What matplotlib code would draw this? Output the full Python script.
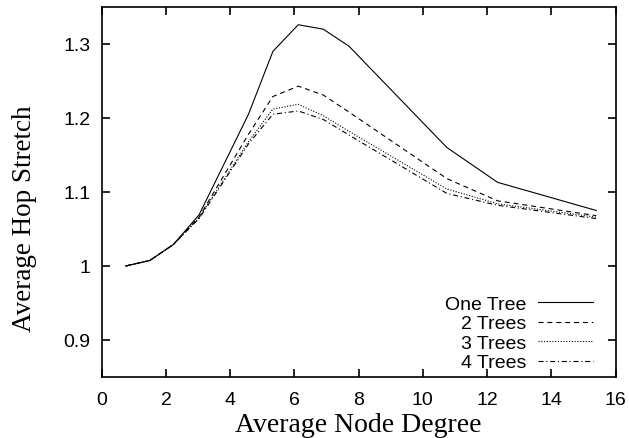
import matplotlib
matplotlib.use("Agg")
import matplotlib.pyplot as plt

plt.rcParams['lines.scale_dashes'] = False

# Average node degree (x) and hop stretch per number of trees
degree = [0.75, 1.5, 2.23, 3.03, 4.57, 5.33, 6.12, 6.9, 7.7, 10.75, 12.33, 15.4]
one_tree = [1.0, 1.0075, 1.029, 1.069, 1.205, 1.290, 1.326, 1.320, 1.297, 1.160, 1.113, 1.075]
two_trees = [1.0, 1.0075, 1.029, 1.066, 1.178, 1.229, 1.243, 1.231, 1.208, 1.118, 1.088, 1.068]
three_trees = [1.0, 1.0075, 1.029, 1.065, 1.168, 1.212, 1.2185, 1.203, 1.182, 1.104, 1.084, 1.066]
four_trees = [1.0, 1.0075, 1.029, 1.064, 1.165, 1.205, 1.2095, 1.198, 1.177, 1.098, 1.082, 1.064]

labels = ["One Tree", "2 Trees", "3 Trees", "4 Trees"]
xticks = [0, 2, 4, 6, 8, 10, 12, 14, 16]
yticks = [0.9, 1.0, 1.1, 1.2, 1.3]
ytick_labels = ["0.9", "1", "1.1", "1.2", "1.3"]

sans = "Liberation Sans"
serif = "Liberation Serif"

fig = plt.figure(figsize=(6.29, 4.39), dpi=100)
ax = fig.add_axes([0.1617, 0.139, 0.8169, 0.8428])

lw = 0.8
ax.plot(degree, one_tree, color='black', lw=lw, linestyle='-', label=labels[0])
ax.plot(degree, two_trees, color='black', lw=lw, linestyle=(0, (3.6, 2.8)), label=labels[1])
ax.plot(degree, three_trees, color='black', lw=lw, linestyle=(0, (0.8, 1.2)), label=labels[2])
ax.plot(degree, four_trees, color='black', lw=lw, linestyle=(0, (3.6, 2.0, 0.8, 2.0)), label=labels[3])

ax.set_xlim(0, 16)
ax.set_ylim(0.85, 1.35)
ax.set_xticks(xticks)
ax.set_yticks(yticks)
ax.set_yticklabels(ytick_labels)

ax.tick_params(direction='in', length=6, width=1.2, top=True, right=True,
               labelsize=14, pad=8)
ax.tick_params(axis='x', pad=10)
for lab in ax.get_xticklabels() + ax.get_yticklabels():
    lab.set_family(sans)
for sp in ax.spines.values():
    sp.set_linewidth(1.2)

ax.set_xlabel("Average Node Degree", family=serif, fontsize=20, labelpad=3)
ax.set_ylabel("Average Hop Stretch", family=serif, fontsize=19.5, labelpad=19)
ax.yaxis.label.set_y(0.43)

leg = ax.legend(loc='lower right', bbox_to_anchor=(0.957, 0.015), frameon=False,
                markerfirst=False, handlelength=2.85, handletextpad=0.62,
                labelspacing=0.1, borderaxespad=0, borderpad=0,
                prop={'family': sans, 'size': 14})

fig.savefig("out.png", dpi=100)
